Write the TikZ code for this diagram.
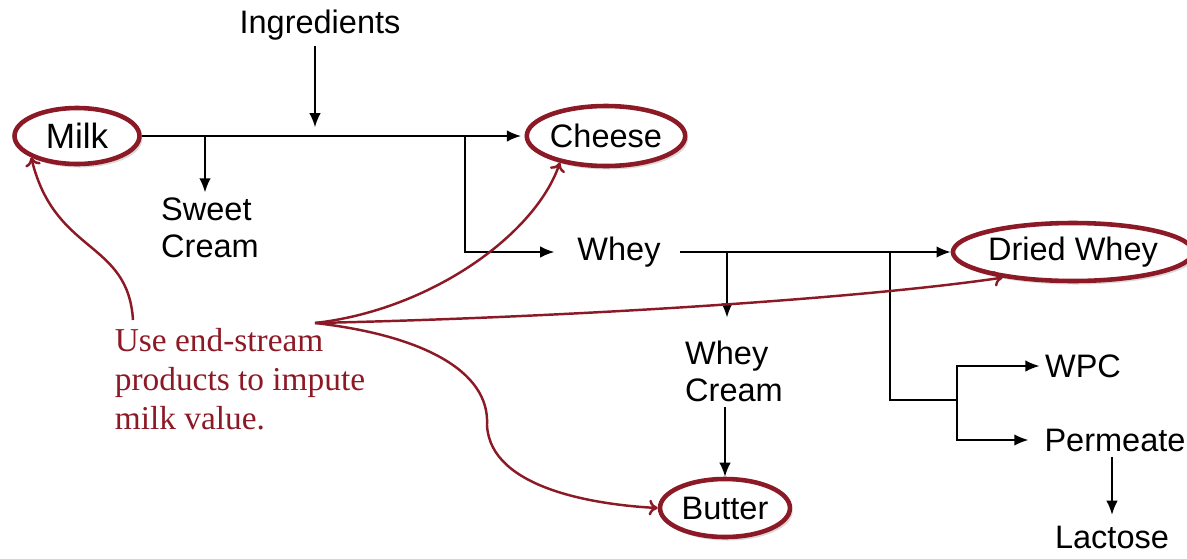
\documentclass[tikz,border=0pt]{standalone}
\usepackage{fontspec}
\newfontfamily\labelfont{Liberation Sans}
\newfontfamily\notefont{Liberation Serif}
\usetikzlibrary{positioning,shapes,shadows,arrows,arrows.meta}
\definecolor{wine}{RGB}{140,26,38}

\tikzset{
  stream/.style={font=\labelfont\fontsize{18.5}{21}\selectfont, inner sep=3pt},
  product/.style={stream, ellipse, draw=wine, line width=2.6pt, fill=white, inner sep=0pt,
    drop shadow={opacity=0.3, shadow xshift=1.5pt, shadow yshift=-2pt}},
  flow/.style={line width=0.9pt, -{Latex[length=8pt,width=6.5pt]}},
  impute/.style={line width=1.4pt, draw=wine, -{To[length=5pt,width=9pt]}},
}

\begin{document}
\begin{tikzpicture}[x=0.02cm, y=-0.02cm]
\useasboundingbox (0,0) rectangle (1187,558);

% products
\node[product, minimum width=2.5cm, minimum height=1.12cm, font=\labelfont\fontsize{20}{22}\selectfont] (milk) at (77,136) {Milk};
\node[product, minimum width=2.6cm, minimum height=1.2cm] (cheese) at (606,136) {Cheese};
\node[product, minimum width=3.8cm, minimum height=1.16cm] (dried) at (1073,252) {Dried Whey};
\node[product, minimum width=2.6cm, minimum height=1.16cm] (butter) at (725,508) {Butter};

% streams
\node[stream] (ingr) at (320,25) {Ingredients};
\node[stream, align=left] (sweet) at (210,228) {Sweet\\Cream};
\node[stream] (whey) at (619,252) {Whey};
\node[stream, align=left] (wcream) at (734,371) {Whey\\Cream};
\node[stream] (wpc) at (1083,366) {WPC};
\node[stream] (perm) at (1115,440) {Permeate};
\node[stream] (lact) at (1112,537) {Lactose};

% note
\node[font=\notefont\fontsize{19}{22}\selectfont, text=wine, align=left] (note) at (240,379)
  {Use end-stream\\products to impute\\milk value.};

\coordinate (j0) at (315,136);
\coordinate (j1) at (205,136);
\coordinate (j2) at (465,136);
\coordinate (j3) at (727,252);
\coordinate (j4) at (890,252);
\coordinate (j5) at (957,400);
\coordinate (fan) at (315,323);
\coordinate (nt) at (133,320);

% flows
\draw[flow, shorten >=5pt] (ingr.south -| j0) -- (j0);
\draw[flow, shorten >=2pt] (milk.east) -- (cheese.west);
\draw[flow] (j1) -- (j1 |- sweet.north);
\draw[flow, shorten >=10pt] (j2) |- (whey.west);
\draw[flow, shorten <=8pt] (whey.east) -- (dried.west);
\draw[flow, shorten >=10pt] (j3) -- (j3 |- wcream.north);
\draw[flow] (wcream.south -| butter.north) -- (butter.north);
\draw[line width=0.9pt] (j4) |- (j5);
\draw[flow] (j5) |- (wpc.west);
\draw[flow, shorten >=6pt] (j5) |- (perm.west);
\draw[flow, shorten >=3pt] (lact.north |- perm.south) -- (lact.north);

% imputation arrows
\draw[impute] (nt) .. controls (128,240) and (55,255) .. (milk.south west);
\draw[impute] (fan) .. controls (430,310) and (535,235) .. (cheese.210);
\draw[impute] (fan) .. controls (550,318) and (850,300) .. (dried.200);
\draw[impute] (fan) .. controls (420,335) and (490,370) .. (487,425)
  .. controls (490,490) and (600,505) .. (butter.west);
\end{tikzpicture}
\end{document}
